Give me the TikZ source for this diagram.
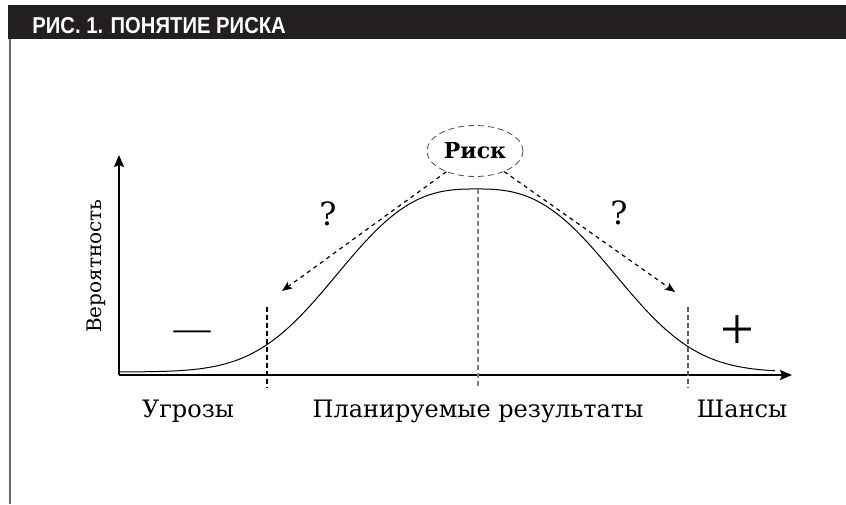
\documentclass[tikz,border=0pt]{standalone}
\usepackage{fontspec}
\setmainfont{DejaVu Serif}
\newfontfamily\titlefont[FakeStretch=0.88]{Liberation Sans}
\newfontfamily\signfont{Liberation Serif}
\usepackage{xcolor}
\usepackage{tikz}
\usetikzlibrary{arrows.meta,shapes.geometric}
\definecolor{titlebar}{RGB}{35,31,32}

\begin{document}
\begin{tikzpicture}[
    x=0.5pt, y=-0.5pt,
    axis/.style={-{Stealth[length=6pt,width=5pt,inset=1pt]}, line width=0.7pt},
    level/.style={dash pattern=on 2.5pt off 1.5pt, line width=0.6pt},
    hint/.style={-{Stealth[length=5pt,width=4pt,inset=1pt]}, dash pattern=on 2pt off 2pt, line width=0.6pt},
    zone/.style={font=\fontsize{12}{13}\selectfont, anchor=base, inner sep=0pt},
    ask/.style={font=\fontsize{16}{16}\selectfont},
]
\useasboundingbox (0,0) rectangle (846,504);
\fill[titlebar] (8,5) rectangle (846,39);
\node[font=\titlefont\bfseries\fontsize{11.5}{12}\selectfont, text=white, anchor=base west, inner sep=0pt] (title) at (32,33) {РИС. 1. ПОНЯТИЕ РИСКА};
\draw[black!60, line width=0.8pt] (10,39) -- (10,504);

\coordinate (origin) at (119,375);
\coordinate (ytip) at (119,155);
\coordinate (xtip) at (792,375);
\draw[axis] (origin) -- (ytip);
\draw[axis] (origin) -- (xtip);

\draw[line width=0.5pt, domain=119:775, samples=200] plot (\x, {372-183*exp(-1*((abs(\x-476)+0.01)/165)^2.71)});

\draw[level] (267,307) -- (267,388);
\draw[level, black!50] (478,189) -- (478,388);
\draw[level, black!65] (688,307) -- (688,388);

\node[ellipse, draw=black!70, dash pattern=on 3pt off 2pt, minimum width=48pt, minimum height=25.5pt, inner sep=0pt, font=\bfseries\fontsize{11}{11}\selectfont] (risk) at (475,151) {Риск};
\coordinate (losstip) at (282,291);
\coordinate (gaintip) at (675,292);
\draw[hint] (risk) -- (losstip);
\draw[hint] (risk) -- (gaintip);
\node[ask] (qloss) at (328,214) {?};
\node[ask] (qgain) at (619,213) {?};

\node[font=\signfont\fontsize{18.5}{18.5}\selectfont, inner sep=0pt] (minus) at (192,336) {—};
\node[font=\signfont\fontsize{30}{30}\selectfont, inner sep=0pt] (plus) at (737,333) {+};

\node[zone] (threats) at (188,417) {Угрозы};
\node[zone] (planned) at (478,417) {Планируемые результаты};
\node[zone] (chances) at (742,417) {Шансы};
\node[font=\fontsize{10}{11}\selectfont, rotate=90] (prob) at (96,266) {Вероятность};
\end{tikzpicture}
\end{document}
